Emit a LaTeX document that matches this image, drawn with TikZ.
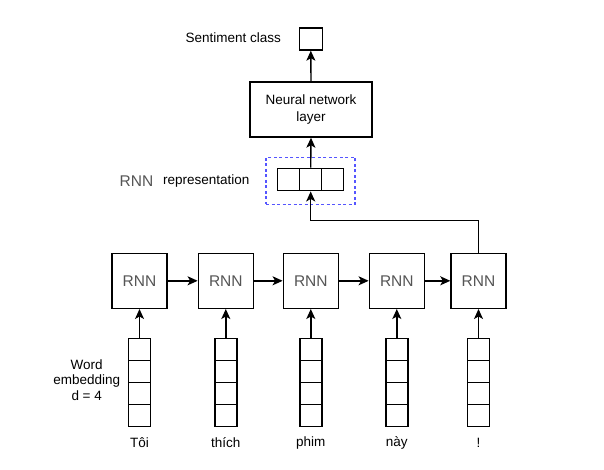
\documentclass[tikz,border=0pt]{standalone}
\usepackage{fontspec}
\setmainfont{Liberation Sans}
\usetikzlibrary{arrows.meta}
\definecolor{rnngray}{HTML}{555555}
\definecolor{dashblue}{HTML}{5555FF}
\tikzset{
  box/.style={draw=black, line width=1.4pt, minimum width=55pt, minimum height=55pt, inner sep=0pt},
  cell/.style={draw=black, line width=1.4pt, minimum width=22pt, minimum height=22pt, inner sep=0pt},
  arr/.style={line width=1.4pt, -{Stealth[length=10pt,width=9pt,inset=2.5pt]}},
  lbl/.style={font=\fontsize{13.5}{16}\selectfont, inner sep=0pt},
  rnntxt/.style={font=\fontsize{15.5}{18}\selectfont, text=rnngray},
}
\begin{document}
\begin{tikzpicture}[x=1pt,y=-1pt]
\useasboundingbox (0,0) rectangle (604,470);
% RNN boxes
\foreach \i/\x in {1/139.5,2/225.8,3/310.8,4/396.8,5/478.5}{
  \node[box, rnntxt] (r\i) at (\x,280.8) {RNN};
  \node[cell] (v\i a) at (\x,349.3) {};
  \node[cell] (v\i b) at (\x,371.3) {};
  \node[cell] (v\i c) at (\x,393.3) {};
  \node[cell] (v\i d) at (\x,415.3) {};
  \draw[arr] (v\i a.north) -- (r\i.south);
}
\draw[arr] (r1.east) -- (r2.west);
\draw[arr] (r2.east) -- (r3.west);
\draw[arr] (r3.east) -- (r4.west);
\draw[arr] (r4.east) -- (r5.west);
% words
\node[lbl] (w1) at (139.5,443) {Tôi};
\node[lbl] (w2) at (225.8,443) {thích};
\node[lbl] (w3) at (310.8,443) {phim};
\node[lbl] (w4) at (396.8,443) {này};
\node[lbl] (w5) at (478.5,443) {!};
\node[lbl, align=center, font=\fontsize{13.5}{15.8}\selectfont] (we) at (86.7,380) {Word\\embedding\\d = 4};
% representation
\node[draw=dashblue, line width=1.2pt, dash pattern=on 3pt off 2.5pt, minimum width=89pt, minimum height=47pt, inner sep=0pt] (rep) at (310.5,180.8) {};
\node[cell, minimum height=22.5pt] (c1) at (288.6,179.5) {};
\node[cell, minimum height=22.5pt] (c2) at (310.7,179.5) {};
\node[cell, minimum height=22.5pt] (c3) at (332.6,179.5) {};
\node[anchor=east, inner sep=0pt, font=\fontsize{15.5}{18}\selectfont, text=rnngray] (rl) at (153.5,181) {RNN};
\node[lbl, anchor=west] (rl2) at (163,181) {representation};
\coordinate (bend) at (478.5,220.5);
\draw[arr] (r5.north) -- (bend) -| (c2.south);
% neural network layer
\node[draw=black, line width=1.4pt, minimum width=122pt, minimum height=55pt, inner sep=0pt, align=center, font=\fontsize{13.5}{17}\selectfont] (nn) at (311,109.5) {Neural network\\layer};
\draw[arr] (c2.north) -- (nn.south);
\node[cell, minimum width=23pt] (sc) at (310.8,39) {};
\draw[arr] (nn.north) -- (sc.south);
\node[lbl, anchor=east] (sl) at (281,37.5) {Sentiment class};
\end{tikzpicture}
\end{document}
